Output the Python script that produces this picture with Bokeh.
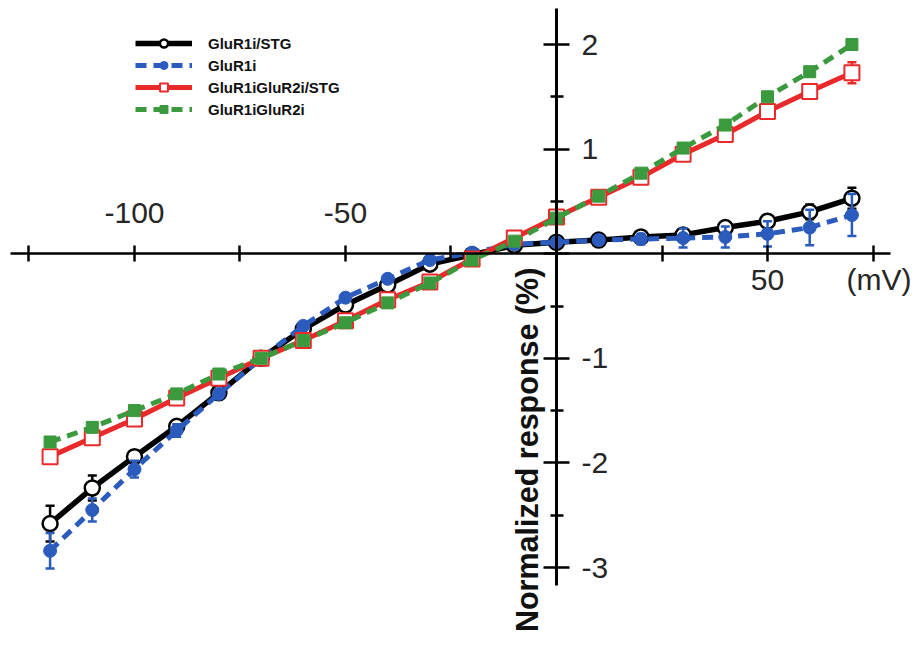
import math
import numpy as np
from bokeh.plotting import figure
from bokeh.models import (Range1d, LinearAxis, FixedTicker, Legend, LegendItem, Label)
from bokeh.embed import file_html
from bokeh.resources import INLINE

# ---------------- data ----------------
voltage = [-120, -110, -100, -90, -80, -70, -60, -50, -40, -30,
           -20, -10, 0, 10, 20, 30, 40, 50, 60, 70]

glur1i_stg = [-2.58, -2.24, -1.94, -1.65, -1.33, -1.00, -0.72, -0.49, -0.30, -0.10,
              -0.01, 0.08, 0.11, 0.13, 0.16, 0.18, 0.25, 0.31, 0.40, 0.53]
glur1i_stg_err = [0.17, 0.12, 0.06, 0.05, 0.04, 0.03, 0.03, 0.03, 0.03, 0.02,
                  0.02, 0.02, 0.02, 0.02, 0.03, 0.04, 0.05, 0.06, 0.07, 0.10]

glur1i = [-2.84, -2.45, -2.06, -1.69, -1.34, -1.00, -0.69, -0.42, -0.24, -0.06,
          0.01, 0.09, 0.11, 0.13, 0.14, 0.15, 0.16, 0.19, 0.25, 0.37]
glur1i_err = [0.17, 0.11, 0.08, 0.06, 0.04, 0.03, 0.03, 0.03, 0.03, 0.02,
              0.02, 0.02, 0.02, 0.03, 0.05, 0.09, 0.10, 0.12, 0.17, 0.20]

glur1i2_stg = [-1.94, -1.76, -1.58, -1.38, -1.19, -1.00, -0.83, -0.64, -0.44, -0.27,
               -0.05, 0.15, 0.35, 0.54, 0.73, 0.95, 1.14, 1.36, 1.55, 1.73]
glur1i2_stg_err = [0.03, 0.03, 0.03, 0.03, 0.03, 0.02, 0.02, 0.02, 0.02, 0.02,
                   0.02, 0.02, 0.02, 0.02, 0.03, 0.03, 0.04, 0.05, 0.06, 0.10]

glur1i2 = [-1.80, -1.66, -1.50, -1.34, -1.15, -1.00, -0.83, -0.66, -0.47, -0.28,
           -0.06, 0.12, 0.34, 0.55, 0.77, 1.01, 1.23, 1.50, 1.74, 2.00]
glur1i2_err = [0.02, 0.02, 0.02, 0.02, 0.02, 0.02, 0.02, 0.02, 0.02, 0.02,
               0.02, 0.02, 0.02, 0.02, 0.02, 0.03, 0.03, 0.04, 0.04, 0.04]

x_ticks = [-125, -100, -75, -50, -25, 0, 25, 50, 75]
x_labels_above = {-100: "-100", -50: "-50"}
x_labels_below = {50: "50", 77: "(mV)"}
y_ticks = [-3, -2, -1, 0, 1, 2]
y_tick_labels = {-3: "-3", -2: "-2", -1: "-1", 0: "", 1: "1", 2: "2"}
y_minor = [-2.5, -1.5, -0.5, 0.5, 1.5]
y_title = "Normalized response (%)"

series_names = ["GluR1i/STG", "GluR1i", "GluR1iGluR2i/STG", "GluR1iGluR2i"]

# ---------------- figure ----------------
W, H = 911, 639
p = figure(width=W, height=H, x_range=Range1d(-131.75, 84.12), y_range=Range1d(-3.688, 2.4207),
           output_backend="svg", toolbar_location=None, min_border=0,
           x_axis_type=None, y_axis_type=None, outline_line_color=None)
p.background_fill_color = "white"
p.border_fill_color = "white"

FONT = "Liberation Sans"
TICK_FS = "30px"
TXT = "#262626"

# main x axis (line + ticks)
xa = LinearAxis(ticker=FixedTicker(ticks=x_ticks), fixed_location=0, bounds=(-129.4, 79.1),
                axis_line_width=2.5, axis_line_color="black",
                major_tick_in=8, major_tick_out=8, major_tick_line_width=2.5,
                minor_tick_line_color=None, major_label_text_color=None)
p.add_layout(xa, "below")

# labels above x axis
xa_up = LinearAxis(ticker=FixedTicker(ticks=list(x_labels_above.keys())), fixed_location=0,
                   major_label_overrides=x_labels_above,
                   axis_line_color=None, major_tick_line_color=None, minor_tick_line_color=None,
                   major_tick_in=0, major_tick_out=0, major_label_standoff=31,
                   major_label_text_font=FONT, major_label_text_font_size=TICK_FS,
                   major_label_text_color=TXT)
p.add_layout(xa_up, "above")

# labels below x axis
xa_dn = LinearAxis(ticker=FixedTicker(ticks=list(x_labels_below.keys())), fixed_location=0,
                   major_label_overrides=x_labels_below,
                   axis_line_color=None, major_tick_line_color=None, minor_tick_line_color=None,
                   major_tick_in=0, major_tick_out=0, major_label_standoff=9,
                   major_label_text_font=FONT, major_label_text_font_size=TICK_FS,
                   major_label_text_color=TXT)
p.add_layout(xa_dn, "below")

# y axis
ya = LinearAxis(ticker=FixedTicker(ticks=y_ticks, minor_ticks=y_minor), fixed_location=0,
                bounds=(-3.17, 2.344), axis_line_width=3, axis_line_color="black",
                major_tick_in=13, major_tick_out=13, major_tick_line_width=2.5,
                minor_tick_in=6, minor_tick_out=7, minor_tick_line_width=2.5,
                minor_tick_line_color="black",
                major_label_overrides=y_tick_labels, major_label_standoff=12,
                major_label_text_font=FONT, major_label_text_font_size=TICK_FS,
                major_label_text_color=TXT)
p.add_layout(ya, "right")

# y title
p.add_layout(Label(x=-6.9, y=-1.875, text=y_title, angle=math.pi / 2,
                   text_align="center", text_baseline="middle",
                   text_font=FONT, text_font_style="bold", text_font_size="30.5px",
                   text_color="#111111"))

# ---------------- series ----------------
styles = [
    dict(y=glur1i_stg, e=glur1i_stg_err, color="#000000", dash="solid", lw=5.5,
         marker="circle", size=15, fill="white", mlw=2.5),
    dict(y=glur1i, e=glur1i_err, color="#2a5bbd", dash="11 7", lw=5,
         marker="circle", size=13, fill="#2a5bbd", mlw=1),
    dict(y=glur1i2_stg, e=glur1i2_stg_err, color="#ea2a2a", dash="solid", lw=5,
         marker="square", size=15, fill="white", mlw=2),
    dict(y=glur1i2, e=glur1i2_err, color="#3b993e", dash="11 7", lw=5,
         marker="square", size=12, fill="#3b993e", mlw=1),
]

items = []
for name, st in zip(series_names, styles):
    y = np.array(st["y"])
    e = np.array(st["e"])
    lo, hi = y - e, y + e
    p.segment(x0=voltage, y0=lo, x1=voltage, y1=hi, line_color=st["color"], line_width=2.5)
    p.scatter(x=voltage + voltage, y=list(lo) + list(hi), marker="dash", size=9,
              line_color=st["color"], line_width=2.5)
    lr = p.line(x=voltage, y=st["y"], line_color=st["color"], line_width=st["lw"],
                line_dash=st["dash"])
    mr = p.scatter(x=voltage, y=st["y"], marker=st["marker"], size=st["size"],
                   fill_color=st["fill"], line_color=st["color"], line_width=st["mlw"])
    items.append(LegendItem(label=name, renderers=[lr, mr]))

legend = Legend(items=items, location=(135, 520), border_line_color=None,
                background_fill_alpha=0, glyph_width=57, glyph_height=20,
                label_height=20, spacing=2, padding=0, margin=0, label_standoff=16,
                label_text_font=FONT, label_text_font_style="bold",
                label_text_font_size="15px", label_text_color="#111111")
p.add_layout(legend)

open("out.html", "w").write(file_html(p, INLINE))
